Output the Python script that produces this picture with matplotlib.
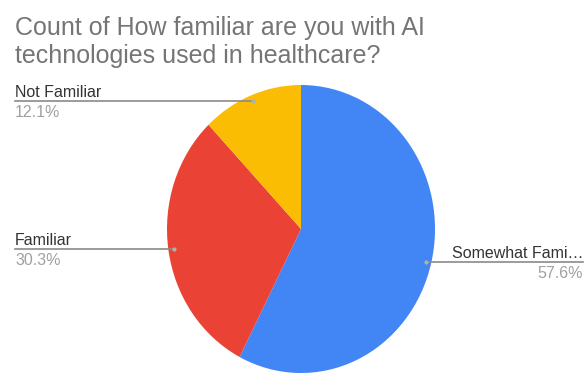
import matplotlib
matplotlib.use("Agg")
import matplotlib.pyplot as plt
import numpy as np

plt.rcParams["font.family"] = ["Liberation Sans", "DejaVu Sans"]

labels = ["Somewhat Fami…", "Familiar", "Not Familiar"]
counts = [19, 10, 4]
colors = ["#4285F4", "#EA4335", "#FBBC04"]
title = "Count of How familiar are you with AI\ntechnologies used in healthcare?"

W, H = 587, 376
# pie centre and radii in pixels (drawn slightly taller than wide)
cx, cy, rx, ry = 301, 229, 134, 144

fig = plt.figure(figsize=(W / 100, H / 100), dpi=100)
ax = fig.add_axes([0, 0, 1, 1])
wedges, _ = ax.pie(counts, colors=colors, startangle=90, counterclock=False,
                   wedgeprops=dict(linewidth=0))
ax.set_aspect("auto")
ax.set_xlim(-cx / rx, (W - cx) / rx)
ax.set_ylim(-(H - cy) / ry, cy / ry)
ax.axis("off")

# overlay in pixel coordinates for leader lines and labels
ov = fig.add_axes([0, 0, 1, 1], facecolor="none")
ov.set_xlim(0, W)
ov.set_ylim(H, 0)
ov.axis("off")

total = sum(counts)
for w, name, n in zip(wedges, labels, counts):
    mid = np.deg2rad((w.theta1 + w.theta2) / 2)
    dx = cx + 0.96 * rx * np.cos(mid)
    dy = cy - 0.96 * ry * np.sin(mid)
    pct = f"{100 * n / total:.1f}%"
    if np.cos(mid) > 0:
        x0, x1, ha, tx = dx, 583, "right", 583
    else:
        x0, x1, ha, tx = 15, dx, "left", 15
    ov.plot([x0, x1], [dy, dy], color="#8a8a8a", lw=1.2)
    ov.plot(dx, dy, "o", ms=3, color="#b0b0b0", mec="none")
    ov.text(tx, dy - 4, name, ha=ha, va="baseline", fontsize=11.5, color="#333333")
    ov.text(tx, dy + 4, pct, ha=ha, va="top", fontsize=11.5, color="#a0a0a0")

ov.text(15, 35, "Count of How familiar are you with AI", ha="left",
        va="baseline", fontsize=18, color="#757575")
ov.text(15, 63, "technologies used in healthcare?", ha="left",
        va="baseline", fontsize=18, color="#757575")

fig.savefig("out.png", dpi=100)
